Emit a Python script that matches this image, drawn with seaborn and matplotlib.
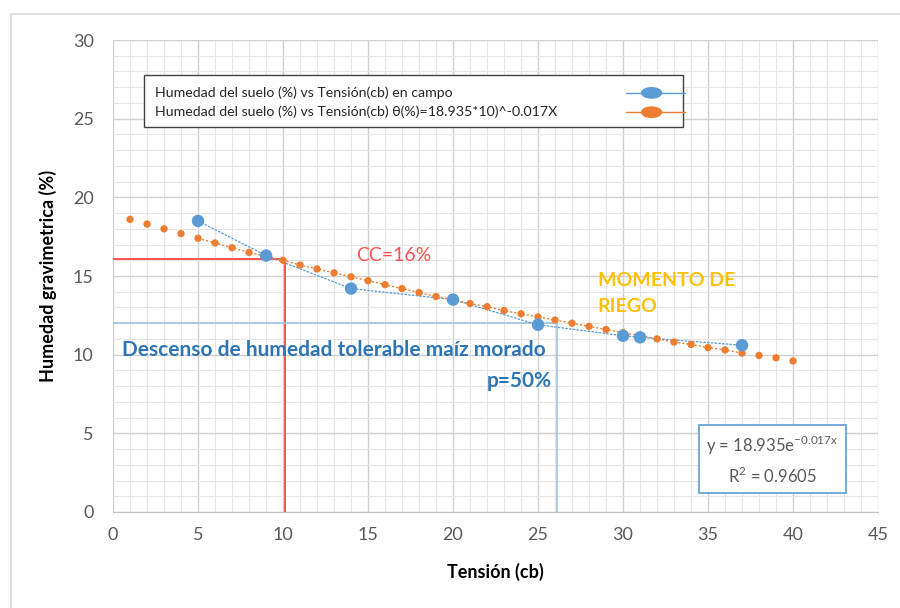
import numpy as np
import pandas as pd
import matplotlib
matplotlib.use("Agg")
import matplotlib.pyplot as plt
import seaborn as sns
from matplotlib.lines import Line2D
from matplotlib.patches import Rectangle, Ellipse

# Datos de campo (tension en cb, humedad en %)
tension_campo = [5, 9, 14, 20, 25, 30, 31, 37]
humedad_campo = [18.5, 16.3, 14.2, 13.5, 11.9, 11.2, 11.1, 10.6]

# Curva de ajuste (x = 1..40)
tension_ajuste = list(range(1, 41))
humedad_ajuste = [18.6, 18.3, 18.0, 17.7, 17.4, 17.1, 16.8, 16.5, 16.25, 16.0,
                  15.7, 15.45, 15.2, 14.95, 14.7, 14.45, 14.2, 13.95, 13.7, 13.5,
                  13.25, 13.05, 12.8, 12.6, 12.4, 12.2, 12.0, 11.8, 11.6, 11.4,
                  11.2, 11.0, 10.8, 10.65, 10.45, 10.3, 10.1, 9.95, 9.8, 9.6]

cc_tension, cc_humedad = 10.1, 16.1
p_tension, p_humedad = 26.1, 12.0

etiquetas = ["Humedad del suelo (%) vs Tensión(cb) en campo",
             "Humedad del suelo (%) vs Tensión(cb) θ(%)=18.935*10)^-0.017X"]

azul = "#5B9BD5"
naranja = "#ED7D31"
rojo = "#FF5050"
dorado = "#FFC000"
texto_azul = "#2E75B6"
gris = "#595959"

sns.set_style("white")
plt.rcParams["font.family"] = ["Lato", "DejaVu Sans"]

df_campo = pd.DataFrame({"Tension": tension_campo, "Humedad": humedad_campo})
df_ajuste = pd.DataFrame({"Tension": tension_ajuste, "Humedad": humedad_ajuste})
df_tend = df_ajuste[(df_ajuste["Tension"] >= 5) & (df_ajuste["Tension"] <= 37)]

fig = plt.figure(figsize=(9, 6.08), dpi=100)
fig.patches.append(Rectangle((0.012, -0.01), 1.0, 0.987, transform=fig.transFigure,
                             fill=False, edgecolor="#d9d9d9", linewidth=1.2))
ax = fig.add_axes([0.1256, 0.1579, 0.85, 0.7763])

# grilla
ax.set_xlim(0, 45)
ax.set_ylim(0, 30)
ax.set_xticks(np.arange(0, 46, 5))
ax.set_yticks(np.arange(0, 31, 5))
ax.set_xticks(np.arange(0, 46, 1), minor=True)
ax.set_yticks(np.arange(0, 31, 1), minor=True)
ax.grid(which="major", color="#cfcfcf", linewidth=1.0)
ax.grid(which="minor", color="#e6e6e6", linewidth=0.8)
ax.set_axisbelow(True)
for s in ["top", "right", "left"]:
    ax.spines[s].set_visible(False)
ax.spines["bottom"].set_color("#bfbfbf")
ax.tick_params(which="both", length=0)
ax.tick_params(axis="both", labelsize=13, labelcolor=gris)
ax.tick_params(axis="x", pad=11)
ax.tick_params(axis="y", pad=14)

# lineas de referencia
ax.plot([0, cc_tension], [cc_humedad, cc_humedad], color=rojo, lw=1.4, zorder=2)
ax.plot([cc_tension, cc_tension], [0, cc_humedad], color=rojo, lw=1.4, zorder=2)
ax.plot([0, p_tension], [p_humedad, p_humedad], color="#9dc3e6", lw=1.2, zorder=2)
ax.plot([p_tension, p_tension], [0, p_humedad], color="#9dc3e6", lw=1.2, zorder=2)

# series
sns.lineplot(data=df_campo, x="Tension", y="Humedad", color=azul, lw=0.9,
             linestyle=(0, (2, 1)), ax=ax, zorder=3)
sns.lineplot(data=df_tend, x="Tension", y="Humedad", color=naranja, lw=1.0,
             linestyle=(0, (1.5, 1.5)), ax=ax, zorder=3)
sns.scatterplot(data=df_ajuste, x="Tension", y="Humedad", color=naranja, s=28,
                edgecolor="none", ax=ax, zorder=4)
sns.scatterplot(data=df_campo, x="Tension", y="Humedad", color=azul, s=80,
                edgecolor="none", ax=ax, zorder=5)

ax.set_xlabel("Tensión (cb)", fontsize=13, fontweight="bold", color="black", labelpad=14)
ax.set_ylabel("Humedad gravimetrica (%)", fontsize=13, fontweight="bold", color="black", labelpad=11)

# anotaciones
ax.text(14.3, 16.3, "CC=16%", color=rojo, fontsize=14, va="center")
ax.text(28.5, 13.9, "MOMENTO DE\nRIEGO", color=dorado, fontsize=14, fontweight="bold",
        va="center", linespacing=1.6)
ax.text(0.5, 10.3, "Descenso de humedad tolerable maíz morado", color=texto_azul,
        fontsize=15, fontweight="bold", va="center")
ax.text(25.8, 8.3, "p=50%", color=texto_azul, fontsize=15, fontweight="bold",
        va="center", ha="right")
ax.text(34.9, 3.3, "y = 18.935e$^{\\mathregular{-0.017x}}$\nR$^{\\mathregular{2}}$ = 0.9605",
        color=gris, fontsize=12, ha="left", va="center", linespacing=1.5,
        multialignment="center",
        bbox=dict(boxstyle="square,pad=0.45", facecolor="white", edgecolor=azul, lw=1.2))

# leyenda (estilo Excel: texto a la izquierda, marcador a la derecha)
ax.add_patch(Rectangle((0.0405, 0.816), 0.705, 0.11, transform=ax.transAxes,
                       facecolor="white", edgecolor="#404040", lw=1.0, zorder=6))
for i, (lab, col) in enumerate(zip(etiquetas, [azul, naranja])):
    yy = 0.888 - i * 0.041
    ax.text(0.055, yy, lab, transform=ax.transAxes, fontsize=10.2, color="#262626",
            va="center", ha="left", zorder=7)
    ax.add_line(Line2D([0.67, 0.748], [yy, yy], transform=ax.transAxes, color=col,
                       lw=1.0, zorder=7))
    ax.add_patch(Ellipse((0.704, yy), 0.026, 0.022, transform=ax.transAxes,
                         facecolor=col, edgecolor=col, zorder=8))

fig.savefig("out.png", dpi=100)
